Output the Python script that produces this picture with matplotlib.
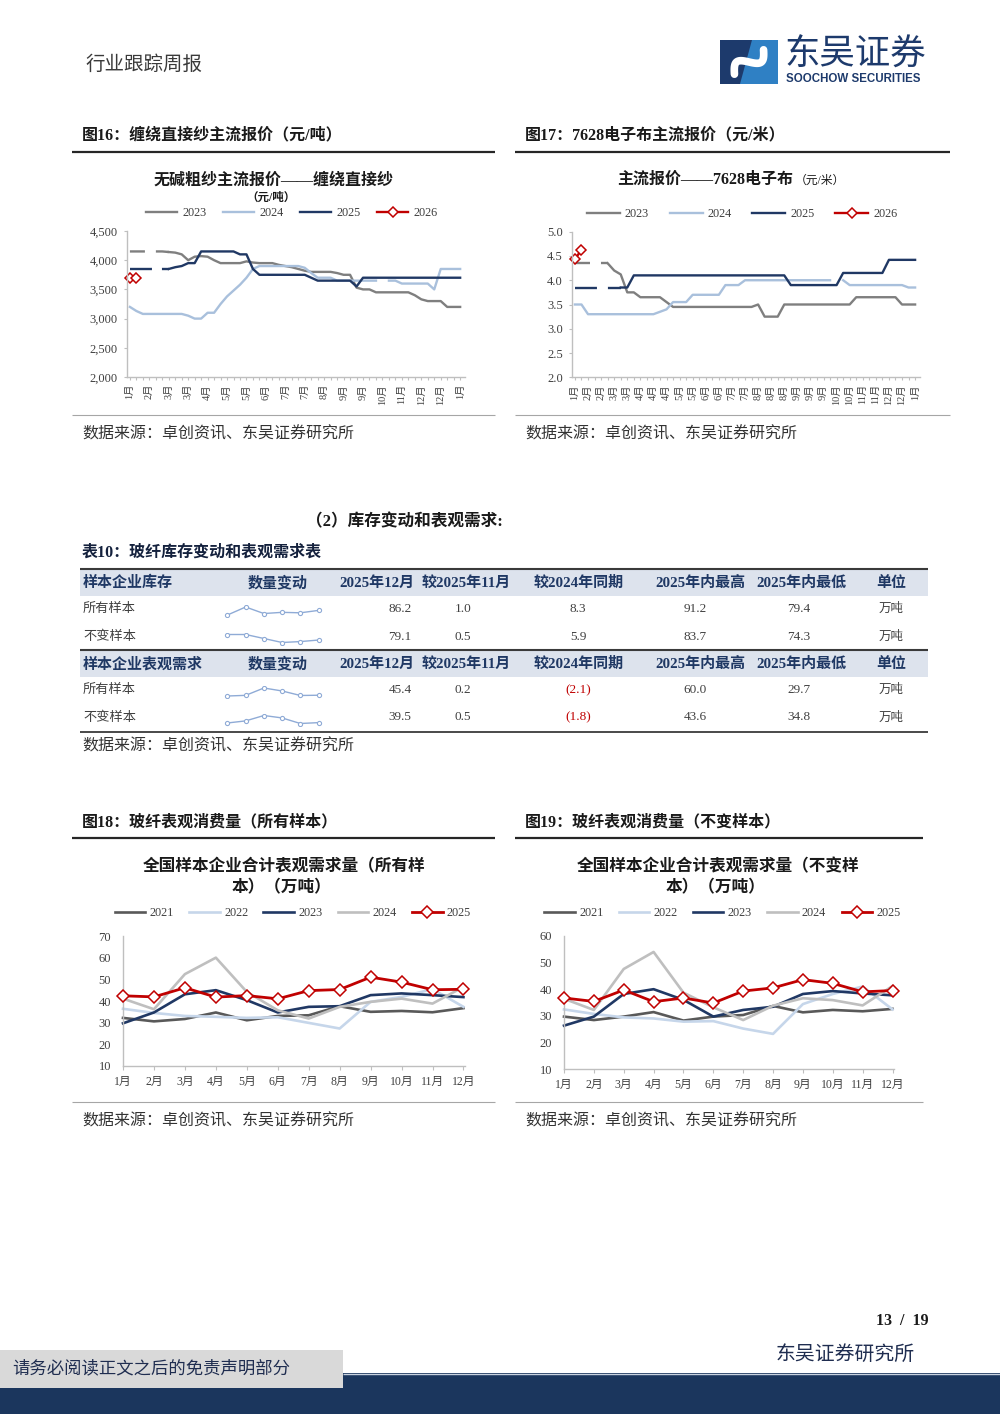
import numpy as np
import matplotlib
matplotlib.use('Agg')
import matplotlib.pyplot as plt
from matplotlib.patches import Rectangle, Polygon
from matplotlib.ticker import FixedLocator, FuncFormatter

plt.rcParams['font.family'] = ['Liberation Serif', 'Noto Sans CJK SC']
plt.rcParams['lines.scale_dashes'] = False
plt.rcParams['legend.numpoints'] = 1
plt.rcParams['axes.unicode_minus'] = False

nan = np.nan
# ---------------- data: 图16 缠绕直接纱 (weekly, 元/吨) ----------------
f16_labels = ['1月', '2月', '3月', '3月', '4月', '5月', '5月', '6月', '7月', '7月',
              '8月', '9月', '9月', '10月', '11月', '12月', '12月', '1月']
f16_2023 = [4150, 4150, 4150, 4150, 4150, 4150, 4140, 4130, 4100, 4000,
            4060, 4070, 4060, 4000, 3950, 3950, 3950, 3950, 3980, 3960,
            3950, 3950, 3950, 3920, 3900, 3880, 3850, 3820, 3800, 3800,
            3800, 3800, 3780, 3750, 3750, 3530, 3500, 3500, 3450, 3450,
            3450, 3450, 3450, 3450, 3400, 3330, 3300, 3300, 3300, 3200,
            3200, 3200]
f16_2024 = [3200, 3130, 3080, 3080, 3080, 3080, 3080, 3080, 3080, 3050,
            3000, 3000, 3100, 3100, 3250, 3380, 3480, 3580, 3700, 3850,
            3900, 3900, 3900, 3900, 3900, 3900, 3900, 3870, 3780, 3700,
            3700, 3700, 3650, 3650, 3650, 3650, 3650, 3650, 3650, nan,
            3650, 3650, 3600, 3600, 3600, 3600, 3600, 3500, 3850, 3850,
            3850, 3850]
f16_2025 = [3850, 3850, 3850, 3850, 3850, 3850, 3850, 3880, 3900, 3950,
            3950, 4150, 4150, 4150, 4150, 4150, 4150, 4100, 4100, 3850,
            3750, 3750, 3750, 3750, 3750, 3750, 3750, 3750, 3700, 3650,
            3650, 3650, 3650, 3650, 3650, 3550, 3700, 3700, 3700, 3700,
            3700, 3700, 3700, 3700, 3700, 3700, 3700, 3700, 3700, 3700,
            3700, 3700]
f16_2026 = [3700, 3700]

# ---------------- data: 图17 7628电子布 (weekly, 元/米) ----------------
f17_labels = ['1月', '2月', '2月', '3月', '3月', '4月', '4月', '4月', '5月', '5月',
              '6月', '6月', '7月', '7月', '8月', '8月', '8月', '9月', '9月', '9月',
              '10月', '10月', '11月', '11月', '12月', '12月', '1月']
f17_2023 = [4.35, 4.35, 4.35, 4.35, 4.35, 4.35, 4.20, 4.12, 3.75, 3.75,
            3.65, 3.65, 3.65, 3.65, 3.55, 3.45, 3.45, 3.45, 3.45, 3.45,
            3.45, 3.45, 3.45, 3.45, 3.45, 3.45, 3.45, 3.45, 3.50, 3.25,
            3.25, 3.25, 3.50, 3.50, 3.50, 3.50, 3.50, 3.50, 3.50, 3.50,
            3.50, 3.50, 3.50, 3.65, 3.65, 3.65, 3.65, 3.65, 3.65, 3.65,
            3.50, 3.50, 3.50]
f17_2024 = [3.50, 3.50, 3.30, 3.30, 3.30, 3.30, 3.30, 3.30, 3.30, 3.30,
            3.30, 3.30, 3.30, 3.35, 3.40, 3.55, 3.55, 3.55, 3.70, 3.70,
            3.70, 3.70, 3.70, 3.90, 3.90, 3.90, 4.00, 4.00, 4.00, 4.00,
            4.00, 4.00, 4.00, 4.00, 4.00, 4.00, 4.00, 4.00, 4.00, 4.00,
            nan, 4.00, 3.90, 3.90, 3.90, 3.90, 3.90, 3.90, 3.90, 3.90,
            3.90, 3.85, 3.85]
f17_2025 = [3.85, 3.85, 3.85, 3.85, 3.85, 3.85, 3.85, 3.85, 3.85, 4.10,
            4.10, 4.10, 4.10, 4.10, 4.10, 4.10, 4.10, 4.10, 4.10, 4.10,
            4.10, 4.10, 4.10, 4.10, 4.10, 4.10, 4.10, 4.10, 4.10, 4.10,
            4.10, 4.10, 4.10, 3.90, 3.90, 3.90, 3.90, 3.90, 3.90, 3.90,
            3.90, 4.15, 4.15, 4.15, 4.15, 4.15, 4.15, 4.15, 4.42, 4.42,
            4.42, 4.42, 4.42]
f17_2026 = [4.43, 4.63]

# ---------------- data: 表10 ----------------
tbl_head_inv = ['样本企业库存', '数量变动', '2025年12月', '较2025年11月', '较2024年同期',
                '2025年内最高', '2025年内最低', '单位']
tbl_head_dem = ['样本企业表观需求', '数量变动', '2025年12月', '较2025年11月', '较2024年同期',
                '2025年内最高', '2025年内最低', '单位']
tbl_rows_inv = [['所有样本', 86.2, 1.0, 8.3, 91.2, 79.4, '万吨'],
                ['不变样本', 79.1, 0.5, 5.9, 83.7, 74.3, '万吨']]
tbl_rows_dem = [['所有样本', 45.4, 0.2, -2.1, 60.0, 29.7, '万吨'],
                ['不变样本', 39.5, 0.5, -1.8, 43.6, 34.8, '万吨']]
spark_inv_all = [84.3, 87.6, 84.9, 85.4, 85.2, 86.2]
spark_inv_fix = [80.9, 80.9, 79.6, 78.3, 78.6, 79.1]
spark_dem_all = [44.8, 45.3, 51.0, 48.7, 45.2, 45.4]
spark_dem_fix = [39.3, 40.5, 43.6, 42.2, 39.0, 39.5]

# ---------------- data: 图18 / 图19 (monthly, 万吨) ----------------
months = ['1月', '2月', '3月', '4月', '5月', '6月', '7月', '8月', '9月', '10月', '11月', '12月']
years5 = ['2021', '2022', '2023', '2024', '2025']
f18_2021 = [32.2, 30.6, 31.7, 34.7, 31.1, 33.1, 33.4, 37.6, 35.0, 35.4, 34.8, 36.7]
f18_2022 = [36.4, 34.5, 33.1, 32.7, 32.2, 32.5, 29.9, 27.3, 39.6, 41.9, 45.5, 37.3]
f18_2023 = [29.7, 34.7, 43.1, 45.0, 40.4, 34.7, 37.3, 37.6, 42.7, 43.5, 42.7, 41.8]
f18_2024 = [41.1, 36.2, 52.4, 60.0, 44.2, 35.7, 31.9, 37.3, 39.6, 41.1, 38.8, 46.5]
f18_2025 = [42.4, 41.9, 46.1, 41.8, 42.5, 41.0, 44.8, 45.3, 51.0, 48.7, 45.2, 45.4]
f19_2021 = [29.7, 28.4, 29.7, 31.4, 28.2, 29.7, 30.3, 33.7, 31.3, 32.2, 31.7, 32.6]
f19_2022 = [32.4, 30.7, 29.4, 29.0, 27.8, 28.0, 25.2, 23.2, 34.4, 38.2, 41.0, 32.4]
f19_2023 = [26.3, 29.7, 38.2, 40.0, 36.0, 29.7, 32.2, 33.4, 38.2, 39.3, 38.4, 37.7]
f19_2024 = [36.4, 32.2, 47.6, 54.0, 38.7, 33.2, 28.4, 33.8, 36.6, 35.9, 33.9, 41.2]
f19_2025 = [36.7, 35.4, 39.7, 35.3, 36.7, 34.8, 39.3, 40.5, 43.6, 42.2, 39.0, 39.5]

# ---------------- figure ----------------
W, H = 1000, 1414
fig = plt.figure(figsize=(10, 14.14), dpi=100)
bg = fig.add_axes([0, 0, 1, 1], zorder=0)
bg.set_xlim(0, W)
bg.set_ylim(H, 0)
bg.axis('off')


def pax(x0, y0, x1, y1, z=2):
    return fig.add_axes([x0 / W, 1 - y1 / H, (x1 - x0) / W, (y1 - y0) / H], zorder=z)


def ptext(x, y, s, size, **kw):
    kw.setdefault('va', 'center')
    kw.setdefault('color', '#1a1a1a')
    return bg.text(x, y, s, fontsize=size, **kw)


def hline(x0, x1, y, color, lw):
    bg.plot([x0, x1], [y, y], color=color, lw=lw, solid_capstyle='butt')


NAVY_T = '#1f3864'
TXT = '#404040'

# header
ptext(85, 65, '行业跟踪周报', 14, color='#3a3a3a')
# logo
bg.add_patch(Rectangle((720, 40), 58, 44, facecolor='#1d3a6c', edgecolor='none'))
bg.add_patch(Polygon([(752, 40), (778, 40), (778, 84), (740, 84)], closed=True,
                     facecolor='#2f80c4', edgecolor='none'))
t = np.linspace(-1, 1, 60)
su = t * 19
sv = np.sin(np.pi * t) * 8
ang = np.deg2rad(-40)
sx = 749 + su * np.cos(ang) - sv * np.sin(ang)
sy = 62 + su * np.sin(ang) + sv * np.cos(ang)
bg.plot(sx, sy, color='white', lw=5.5, solid_capstyle='round')
ptext(784, 55, '东吴证券', 25.5, color='#1d3a6c', family=['Noto Sans CJK SC'], weight='medium')
ptext(786, 79, 'SOOCHOW SECURITIES', 8.3, color='#1d3a6c', family=['Liberation Sans'], weight='bold')

# captions row 1
ptext(82, 135, '图16：缠绕直接纱主流报价（元/吨）', 11.5, weight='bold')
ptext(525, 135, '图17：7628电子布主流报价（元/米）', 11.5, weight='bold')
hline(72, 495, 152, '#262626', 1.6)
hline(515, 950, 152, '#262626', 1.6)
hline(72, 495, 415, '#a6a6a6', 0.8)
hline(515, 950, 415, '#a6a6a6', 0.8)
ptext(82, 435, '数据来源：卓创资讯、东吴证券研究所', 11.5, color='#333333')
ptext(525, 435, '数据来源：卓创资讯、东吴证券研究所', 11.5, color='#333333')

# chart titles
ptext(274, 180, '无碱粗纱主流报价——缠绕直接纱', 11.5, weight='bold', ha='center')
ptext(271, 198, '（元/吨）', 8.3, weight='bold', ha='center')
ptext(793, 180, '主流报价——7628电子布', 11.5, weight='bold', ha='right')
ptext(795, 181, '（元/米）', 8.5, ha='left')

C23 = '#7f7f7f'
C24 = '#a9c0dc'
C25 = '#203864'
CR = '#c00000'
LW = 1.7


def style_weekly(ax, n, labels, step, xlim, ylim, yticks, fmt):
    ax.set_xlim(*xlim)
    ax.set_ylim(*ylim)
    ax.patch.set_alpha(0)
    for s in ('top', 'right'):
        ax.spines[s].set_visible(False)
    for s in ('left', 'bottom'):
        ax.spines[s].set_color('#bfbfbf')
        ax.spines[s].set_linewidth(1.0)
    ax.xaxis.set_major_locator(FixedLocator(np.arange(0, n, step)))
    ax.set_xticklabels(labels, rotation=90)
    ax.xaxis.set_minor_locator(FixedLocator(np.arange(n)))
    ax.tick_params(axis='x', which='both', length=2.5, width=0.8, color='#bfbfbf',
                   pad=2.5, labelsize=7.5, labelcolor=TXT)
    ax.set_yticks(yticks)
    ax.yaxis.set_major_formatter(FuncFormatter(fmt))
    ax.tick_params(axis='y', length=2.5, width=0.8, color='#bfbfbf', pad=4,
                   labelsize=9, labelcolor=TXT)


# ---- chart 16 ----
ax1 = pax(127, 231, 465, 377)
x16 = np.arange(len(f16_2023))
a23 = np.array(f16_2023, float)
a24 = np.array(f16_2024, float)
a25 = np.array(f16_2025, float)
ax1.plot(x16[:7], a23[:7], color=C23, lw=LW, dashes=(10.8, 7.9))
h23, = ax1.plot(x16[6:], a23[6:], color=C23, lw=LW, label='2023')
h24, = ax1.plot(x16, a24, color=C24, lw=LW, label='2024')
ax1.plot(x16[:7], a25[:7], color=C25, lw=LW, dashes=(15.8, 7.2))
h25, = ax1.plot(x16[6:], a25[6:], color=C25, lw=LW, label='2025')
h26, = ax1.plot(x16[:len(f16_2026)], f16_2026, color=CR, lw=LW, marker='D', ms=5,
                mfc='white', mec=CR, mew=1.1, label='2026', clip_on=False)
style_weekly(ax1, 52, f16_labels, 3, (-0.45, 51.75), (2000, 4500),
             [2000, 2500, 3000, 3500, 4000, 4500], lambda v, p: f'{v:,.0f}')
leg = ax1.legend(handles=[h23, h24, h25, h26], loc='center', bbox_to_anchor=(0.488, 1.123),
                 ncol=4, frameon=False, fontsize=8.8, handlelength=2.5, handletextpad=0.42,
                 columnspacing=1.4, borderaxespad=0, borderpad=0)
for tx in leg.get_texts():
    tx.set_color(TXT)

# ---- chart 17 ----
ax2 = pax(572, 231.7, 920, 377.3)
x17 = np.arange(len(f17_2023))
b23 = np.array(f17_2023, float)
b24 = np.array(f17_2024, float)
b25 = np.array(f17_2025, float)
ax2.plot(x17[:6], b23[:6], color=C23, lw=LW, dashes=(10.8, 7.9))
g23, = ax2.plot(x17[5:], b23[5:], color=C23, lw=LW, label='2023')
g24, = ax2.plot(x17, b24, color=C24, lw=LW, label='2024')
ax2.plot(x17[:8], b25[:8], color=C25, lw=LW, dashes=(15.8, 7.9))
g25, = ax2.plot(x17[7:], b25[7:], color=C25, lw=LW, label='2025')
g26, = ax2.plot(x17[:len(f17_2026)], f17_2026, color=CR, lw=LW, marker='D', ms=5,
                mfc='white', mec=CR, mew=1.1, label='2026', clip_on=False)
style_weekly(ax2, 53, f17_labels, 2, (-0.45, 52.75), (2.0, 5.0),
             [2.0, 2.5, 3.0, 3.5, 4.0, 4.5, 5.0], lambda v, p: f'{v:.1f}')
leg = ax2.legend(handles=[g23, g24, g25, g26], loc='center', bbox_to_anchor=(0.489, 1.123),
                 ncol=4, frameon=False, fontsize=8.8, handlelength=2.7, handletextpad=0.4,
                 columnspacing=1.7, borderaxespad=0, borderpad=0)
for tx in leg.get_texts():
    tx.set_color(TXT)

# ---------------- section (2) and table ----------------
ptext(404, 522, '（2）库存变动和表观需求:', 12, weight='bold', ha='center')
ptext(82, 553, '表10：玻纤库存变动和表观需求表', 11.5, weight='bold', color='#14213d')

TX0, TX1 = 80, 928
head_cx = [None, 278, 377, 466, 579, 700, 801, 891]
val_cx = [None, None, 400, 463, 578, 695, 799, 891]


def table_block(y_top, head, rows, sparks):
    bg.add_patch(Rectangle((TX0, y_top + 1), TX1 - TX0, 26, facecolor='#dde3ed', edgecolor='none'))
    hline(TX0, TX1, y_top, '#3a3a3a', 1.5)
    hy = y_top + 14
    ptext(83, hy, head[0], 10.8, weight='bold', color=NAVY_T, ha='left')
    for i in range(1, 8):
        ptext(head_cx[i], hy, head[i], 10.8, weight='bold', color=NAVY_T, ha='center')
    for r, (row, sp) in enumerate(zip(rows, sparks)):
        ry = y_top + 40 + r * 27.5
        ptext(83, ry, row[0], 9.5, color=TXT, ha='left')
        for j, v in enumerate(row[1:6]):
            cx = val_cx[j + 2]
            if v < 0:
                ptext(cx, ry, f'({abs(v):.1f})', 9.5, color=CR, ha='center')
            else:
                ptext(cx, ry, f'{v:.1f}', 9.5, color=TXT, ha='center')
        ptext(val_cx[7], ry, row[6], 9, color=TXT, ha='center')
        sax = pax(222, ry - 4, 324, ry + 8, z=3)
        sax.plot(np.arange(len(sp)), sp, color='#8fabd6', lw=1.0, marker='o', ms=3,
                 mfc='white', mec='#8fabd6', mew=0.8)
        sax.set_xlim(-0.3, len(sp) - 0.7)
        lo, hi = min(sp), max(sp)
        pad = (hi - lo) * 0.25
        sax.set_ylim(lo - pad, hi + pad)
        sax.axis('off')


table_block(569, tbl_head_inv, tbl_rows_inv, [spark_inv_all, spark_inv_fix])
table_block(650, tbl_head_dem, tbl_rows_dem, [spark_dem_all, spark_dem_fix])
hline(TX0, TX1, 732, '#3a3a3a', 1.3)
ptext(82, 747, '数据来源：卓创资讯、东吴证券研究所', 11.5, color='#333333')

# ---------------- charts 18 / 19 ----------------
ptext(82, 822, '图18：玻纤表观消费量（所有样本）', 11.5, weight='bold')
ptext(525, 822, '图19：玻纤表观消费量（不变样本）', 11.5, weight='bold')
hline(72, 495, 838, '#262626', 1.6)
hline(515, 923, 838, '#262626', 1.6)
hline(72, 495, 1102, '#a6a6a6', 0.8)
hline(515, 923, 1102, '#a6a6a6', 0.8)
ptext(82, 1122, '数据来源：卓创资讯、东吴证券研究所', 11.5, color='#333333')
ptext(525, 1122, '数据来源：卓创资讯、东吴证券研究所', 11.5, color='#333333')

ptext(284, 867, '全国样本企业合计表观需求量（所有样', 12, weight='bold', ha='center')
ptext(281, 888, '本）（万吨）', 12, weight='bold', ha='center')
ptext(718, 867, '全国样本企业合计表观需求量（不变样', 12, weight='bold', ha='center')
ptext(715, 888, '本）（万吨）', 12, weight='bold', ha='center')

M_COLORS = ['#595959', '#c6d6ea', '#203864', '#bfbfbf', CR]


def monthly_chart(box, series, ylim, yticks, leg_anchor):
    ax = pax(*box)
    xm = np.arange(len(months))
    handles = []
    for k, (yr, s) in enumerate(zip(years5, series)):
        if yr == '2025':
            h, = ax.plot(xm, s, color=M_COLORS[k], lw=2.0, marker='D', ms=6, mfc='white',
                         mec=CR, mew=1.1, label=yr, clip_on=False, zorder=5)
        else:
            h, = ax.plot(xm, s, color=M_COLORS[k], lw=1.9, label=yr, clip_on=False)
        handles.append(h)
    ax.set_xlim(0, 11.05)
    ax.set_ylim(*ylim)
    ax.patch.set_alpha(0)
    for sname in ('top', 'right'):
        ax.spines[sname].set_visible(False)
    for sname in ('left', 'bottom'):
        ax.spines[sname].set_color('#bfbfbf')
        ax.spines[sname].set_linewidth(1.0)
    ax.set_xticks(xm)
    ax.set_xticklabels(months)
    ax.tick_params(axis='x', length=3, width=0.8, color='#bfbfbf', labelsize=8.5,
                   labelcolor=TXT, pad=4)
    ax.set_yticks(yticks)
    ax.tick_params(axis='y', length=0, pad=8.5, labelsize=9, labelcolor=TXT)
    leg = ax.legend(handles=handles, loc='center', bbox_to_anchor=leg_anchor, ncol=5,
                    frameon=False, fontsize=8.8, handlelength=2.5, handletextpad=0.35,
                    columnspacing=1.25, borderaxespad=0, borderpad=0)
    for tx in leg.get_texts():
        tx.set_color(TXT)
    return ax


monthly_chart((123, 936, 465, 1066), [f18_2021, f18_2022, f18_2023, f18_2024, f18_2025],
              (10, 70), [10, 20, 30, 40, 50, 60, 70], (0.497, 1.177))
monthly_chart((564, 936, 894, 1069), [f19_2021, f19_2022, f19_2023, f19_2024, f19_2025],
              (10, 60), [10, 20, 30, 40, 50, 60], (0.48, 1.173))

# ---------------- footer ----------------
ptext(929, 1321, '13  /  19', 11.5, weight='bold', ha='right')
ptext(776, 1355, '东吴证券研究所', 14.3, color='#1f2d50', ha='left')
bg.add_patch(Rectangle((0, 1373), W, 41, facecolor='#1b365d', edgecolor='none', zorder=1))
hline(343, W, 1373.5, '#c9d3e0', 1.0)
bg.add_patch(Rectangle((0, 1350), 343, 38, facecolor='#d9d9d9', edgecolor='none', zorder=2))
ptext(12, 1369, '请务必阅读正文之后的免责声明部分', 12.5, color='#1f2d50', ha='left',
      weight='medium', zorder=3)

fig.savefig('out.png', dpi=100)
